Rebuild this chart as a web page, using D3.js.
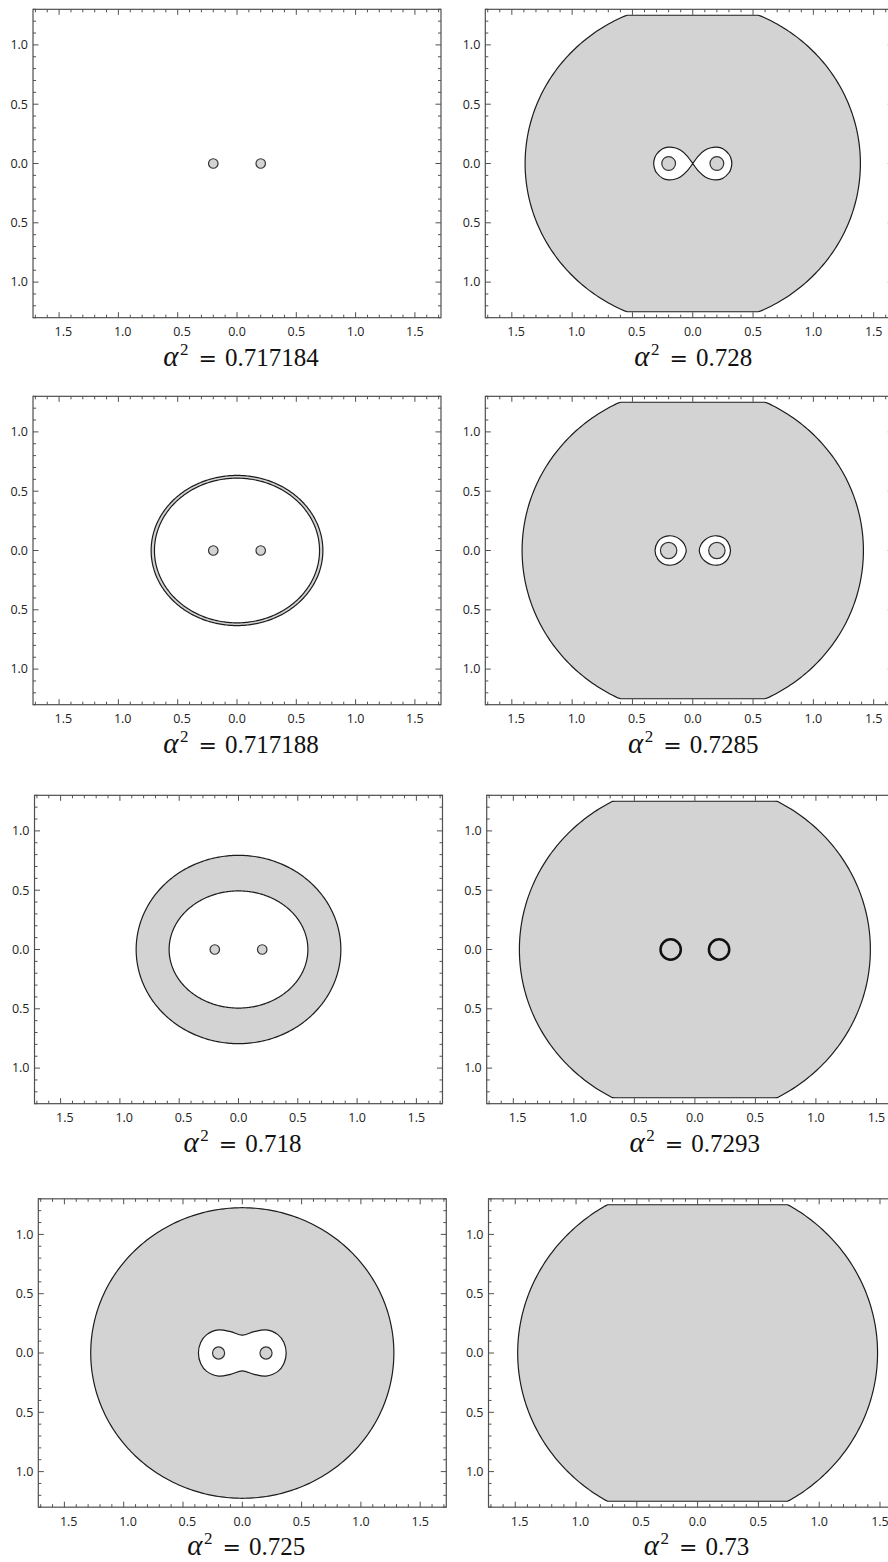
<!DOCTYPE html>
<html>
<head>
<meta charset="utf-8">
<script src="https://cdn.jsdelivr.net/npm/d3@7"></script>
<style>
  body { margin: 0; background: #fff; }
  svg { display: block; }
</style>
</head>
<body>
<svg id="fig" width="888" height="1562"></svg>
<script>
// ---- data: one entry per panel, left column top→bottom, then right column ----
const alphaSq = ["0.717184", "0.717188", "0.718", "0.725", "0.728", "0.7285", "0.7293", "0.73"];

// outer boundary of the shaded region (semi-axes, plot units)
const outerA = [null, 0.724, 0.863, 1.278, 1.39, 1.415, 1.45, 1.48];
const outerB = [null, 0.633, 0.794, 1.225, 1.36, 1.383, 1.415, 1.445];
// shaded region is cut off at |y| = yCut in these panels
const outerCut = [false, false, false, false, true, true, true, true];
const yCut = 1.25;

// kind of hole inside the shaded region
const holeKind = ["none", "ellipse", "ellipse", "peanut", "lemniscate", "eggs", "none", "none"];
const holeA = [null, 0.696, 0.585, null, null, null, null, null];
const holeB = [null, 0.610, 0.494, null, null, null, null, null];

// hole outlines (first quadrant / upper half, plot units)
const peanutQuadrant = [[0, 0.15], [0.1, 0.18], [0.2, 0.195], [0.3, 0.155], [0.35, 0.09], [0.37, 0]];
const lemniscateQuadrant = [[0, 0], [0.05, 0.067], [0.1, 0.111], [0.15, 0.133], [0.2, 0.138],
                            [0.25, 0.124], [0.3, 0.078], [0.315, 0.048], [0.324, 0]];
const eggUpper = [[0.054, 0], [0.07, 0.052], [0.1, 0.089], [0.15, 0.118], [0.2, 0.124],
                  [0.25, 0.109], [0.29, 0.073], [0.313, 0]];

// the two poles and the radius of the small disc around each
const poleX = [-0.2, 0.2];
const poleR = [0.04, 0.04, 0.04, 0.051, 0.057, 0.068, 0.084, null];

// axes
const xMajor = [-1.5, -1.0, -0.5, 0.0, 0.5, 1.0, 1.5];
const xTickLabels = ["1.5", "1.0", "0.5", "0.0", "0.5", "1.0", "1.5"];
const yMajor = [1.0, 0.5, 0.0, -0.5, -1.0];
const yTickLabels = ["1.0", "0.5", "0.0", "0.5", "1.0"];

// ---- layout ----
const K = 118.6;                  // pixels per plot unit
const xHalf = 1.72, yHalf = 1.3;  // plot range
const centers = [
  [237.0, 163.5], [237.0, 550.5], [238.5, 949.5], [242.3, 1353.0],
  [689.3, 163.5], [689.3, 550.5], [690.7, 949.5], [692.5, 1353.0]
];
const pageRight = 886.5;

const GRAY = "#d3d3d3", INK = "#1c1c1c", AXIS = "#505050";

const svg = d3.select("#fig");
const defs = svg.append("defs");

function ellipsePoints(a, b, cut) {
  return d3.range(0, 360, 1).map(t => {
    const r = t * Math.PI / 180;
    let py = b * Math.sin(r);
    if (cut) py = Math.max(-yCut, Math.min(yCut, py));
    return [a * Math.cos(r), py];
  });
}

function mirroredClosed(q) {
  return [
    ...q,
    ...q.slice(0, -1).reverse().map(([a, b]) => [a, -b]),
    ...q.slice(1).map(([a, b]) => [-a, -b]),
    ...q.slice(1, -1).reverse().map(([a, b]) => [-a, b])
  ];
}

centers.forEach(([cx, cy], i) => {
  const x = d3.scaleLinear().domain([-xHalf, xHalf]).range([cx - xHalf * K, cx + xHalf * K]);
  const y = d3.scaleLinear().domain([-yHalf, yHalf]).range([cy + yHalf * K, cy - yHalf * K]);
  const xMax = Math.min(xHalf, x.invert(pageRight));
  x.domain([-xHalf, xMax]).range([x(-xHalf), x(xMax)]);

  const left = x(-xHalf), right = x(xMax), top = y(yHalf), bottom = y(-yHalf);
  const g = svg.append("g");

  defs.append("clipPath").attr("id", "clip" + i)
    .append("rect").attr("x", left).attr("y", top)
    .attr("width", right - left).attr("height", bottom - top);

  const plot = g.append("g").attr("clip-path", `url(#clip${i})`);

  const linePath = d3.line().x(d => x(d[0])).y(d => y(d[1]));
  const closedPath = d3.line().x(d => x(d[0])).y(d => y(d[1])).curve(d3.curveCatmullRomClosed);
  const openPath = d3.line().x(d => x(d[0])).y(d => y(d[1])).curve(d3.curveCatmullRom);

  // shaded region with its hole(s), even-odd fill
  if (outerA[i] !== null) {
    let dStr = linePath(ellipsePoints(outerA[i], outerB[i], outerCut[i])) + "Z";
    const kind = holeKind[i];
    if (kind === "ellipse") {
      dStr += linePath(ellipsePoints(holeA[i], holeB[i], false)) + "Z";
    } else if (kind === "peanut") {
      dStr += closedPath(mirroredClosed(peanutQuadrant));
    } else if (kind === "lemniscate") {
      const lobe = [...lemniscateQuadrant,
                    ...lemniscateQuadrant.slice(0, -1).reverse().map(([a, b]) => [a, -b])];
      dStr += openPath(lobe) + "Z";
      dStr += openPath(lobe.map(([a, b]) => [-a, b])) + "Z";
    } else if (kind === "eggs") {
      const egg = [...eggUpper, ...eggUpper.slice(1, -1).reverse().map(([a, b]) => [a, -b])];
      dStr += closedPath(egg);
      dStr += closedPath(egg.map(([a, b]) => [-a, b]));
    }
    plot.append("path").attr("d", dStr)
      .attr("fill", GRAY).attr("fill-rule", "evenodd")
      .attr("stroke", INK).attr("stroke-width", 1.2).attr("stroke-linejoin", "round");
  }

  // discs around the poles
  if (poleR[i] !== null) {
    const merged = holeKind[i] === "none" && outerA[i] !== null;
    plot.selectAll("circle.pole").data(poleX).join("circle")
      .attr("class", "pole")
      .attr("cx", d => x(d)).attr("cy", y(0))
      .attr("r", x(poleR[i]) - x(0))
      .attr("fill", GRAY).attr("stroke", merged ? "#111" : "#333")
      .attr("stroke-width", merged ? 2.5 : 1.2);
  }

  // frame
  g.append("rect").attr("x", left).attr("y", top)
    .attr("width", right - left).attr("height", bottom - top)
    .attr("fill", "none").attr("stroke", AXIS).attr("stroke-width", 1.2);

  // ticks on all four sides, minor every 0.1, major every 0.5
  const steps = d3.range(-17, 18).map(k => ({ v: k / 10, major: k % 5 === 0 }));
  const tickG = g.append("g").attr("stroke", AXIS).attr("stroke-width", 1);
  steps.filter(s => s.v >= -xHalf - 1e-9 && s.v <= xMax + 1e-9).forEach(s => {
    const len = s.major ? 5.5 : 3;
    tickG.append("line").attr("x1", x(s.v)).attr("x2", x(s.v)).attr("y1", bottom).attr("y2", bottom - len);
    tickG.append("line").attr("x1", x(s.v)).attr("x2", x(s.v)).attr("y1", top).attr("y2", top + len);
  });
  steps.filter(s => Math.abs(s.v) <= yHalf + 1e-9).forEach(s => {
    const len = s.major ? 5.5 : 3;
    tickG.append("line").attr("y1", y(s.v)).attr("y2", y(s.v)).attr("x1", left).attr("x2", left + len);
    tickG.append("line").attr("y1", y(s.v)).attr("y2", y(s.v)).attr("x1", right).attr("x2", right - len);
  });

  // tick labels
  const lab = g.append("g").attr("font-family", "'Open Sans', 'DejaVu Sans', sans-serif")
    .attr("font-size", 12.5).attr("fill", "#222");
  xMajor.forEach((v, j) => {
    lab.append("text").attr("x", x(v) + (v < 0 ? 4.3 : 0)).attr("y", bottom + 18.5)
      .attr("text-anchor", "middle").text(xTickLabels[j]);
  });
  yMajor.forEach((v, j) => {
    lab.append("text").attr("x", left - 5).attr("y", y(v)).attr("dy", "0.35em")
      .attr("text-anchor", "end").text(yTickLabels[j]);
  });

  // panel caption: alpha^2 = value
  const cap = g.append("text").attr("x", cx + 4).attr("y", bottom + 48)
    .attr("text-anchor", "middle")
    .attr("font-family", "'Liberation Serif', 'DejaVu Serif', serif")
    .attr("font-size", 25).attr("fill", "#111");
  cap.append("tspan").attr("font-style", "italic").attr("font-size", 29).text("α");
  cap.append("tspan").attr("font-size", 17).attr("dy", -11).attr("dx", 1.5).text("2");
  cap.append("tspan").attr("dy", 11).attr("dx", 10).attr("font-family", "'DejaVu Serif', serif")
    .attr("font-size", 22).text("=");
  cap.append("tspan").attr("dx", 8).text(alphaSq[i]);
});
</script>
</body>
</html>
